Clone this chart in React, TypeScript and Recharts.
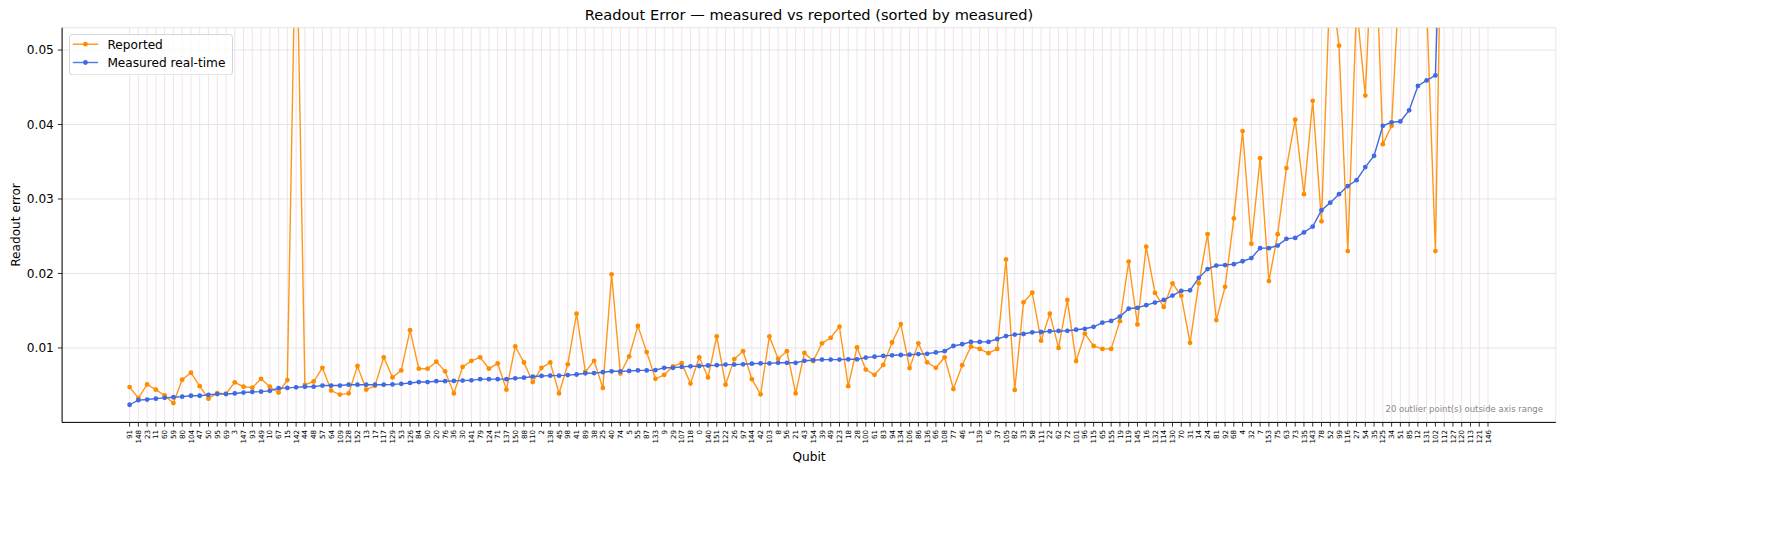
import { LineChart, Line, XAxis, YAxis, CartesianGrid, Legend } from "recharts";

// qubits sorted by measured readout error
const qubits = [
  91, 148, 23, 11, 60, 59, 80, 104, 47, 50,
  95, 69, 3, 147, 93, 149, 10, 67, 15, 142,
  44, 48, 57, 64, 109, 128, 152, 13, 17, 117,
  129, 53, 126, 84, 90, 20, 76, 36, 30, 141,
  79, 124, 71, 137, 150, 88, 110, 2, 138, 45,
  98, 41, 89, 38, 25, 40, 74, 5, 55, 87,
  133, 9, 29, 107, 118, 0, 140, 151, 122, 26,
  97, 144, 42, 103, 8, 56, 21, 43, 154, 39,
  49, 123, 18, 28, 100, 61, 83, 94, 134, 106,
  86, 136, 66, 108, 77, 46, 1, 139, 6, 37,
  105, 82, 33, 58, 111, 22, 62, 72, 101, 96,
  115, 65, 155, 19, 119, 145, 16, 132, 114, 130,
  70, 31, 14, 24, 81, 92, 68, 4, 32, 7,
  153, 75, 63, 73, 135, 143, 78, 52, 99, 116,
  27, 54, 35, 125, 34, 51, 85, 12, 131, 102,
  112, 127, 120, 113, 121, 146,
];

const measured = [
  0.00237, 0.00299, 0.00307, 0.00319, 0.0033, 0.00338, 0.00346, 0.00358, 0.00358, 0.0037,
  0.00381, 0.00381, 0.00389, 0.00401, 0.00409, 0.00413, 0.00424, 0.00459, 0.00463, 0.00471,
  0.00479, 0.0048, 0.00495, 0.00495, 0.00495, 0.00506, 0.00506, 0.00506, 0.00506, 0.00506,
  0.0051, 0.00518, 0.0053, 0.00542, 0.00542, 0.00553, 0.00553, 0.00557, 0.00561, 0.00565,
  0.00581, 0.00581, 0.00581, 0.00581, 0.00592, 0.006, 0.00616, 0.00624, 0.00628, 0.00628,
  0.00635, 0.00643, 0.00659, 0.00662, 0.00674, 0.00686, 0.00686, 0.0069, 0.00698, 0.00698,
  0.00702, 0.00733, 0.00733, 0.00745, 0.00753, 0.00757, 0.00764, 0.00768, 0.00776, 0.00776,
  0.0078, 0.00788, 0.00792, 0.00792, 0.008, 0.008, 0.008, 0.00827, 0.00835, 0.00843,
  0.00843, 0.00843, 0.00847, 0.00847, 0.0087, 0.00882, 0.00893, 0.00901, 0.00905, 0.00909,
  0.00917, 0.00921, 0.0094, 0.00956, 0.01026, 0.0105, 0.01081, 0.01081, 0.01081, 0.0112,
  0.01159, 0.01179, 0.01187, 0.0121, 0.01214, 0.01224, 0.01228, 0.0123, 0.01245, 0.01257,
  0.01284, 0.01339, 0.01363, 0.01421, 0.01527, 0.01539, 0.01574, 0.01609, 0.01644, 0.01703,
  0.01766, 0.01773, 0.01941, 0.02059, 0.02106, 0.02113, 0.02125, 0.02164, 0.02207, 0.0234,
  0.0234, 0.02375, 0.02465, 0.02477, 0.02551, 0.0263, 0.02849, 0.02951, 0.03064, 0.03174,
  0.03252, 0.03428, 0.0358, 0.03983, 0.0403, 0.04041, 0.0419, 0.04518, 0.04592, 0.04659,
  0.085, 0.092, 0.105, 0.12, 0.14, 0.17,
];

const reported = [
  0.00475, 0.00326, 0.0051, 0.0044, 0.00362, 0.0026, 0.00573, 0.00667, 0.00487, 0.00319,
  0.00393, 0.00385, 0.00538, 0.00479, 0.00467, 0.00585, 0.00479, 0.00401, 0.00569, 0.07,
  0.00502, 0.00549, 0.00733, 0.00428, 0.00373, 0.00389, 0.00757, 0.0044, 0.00491, 0.00874,
  0.00604, 0.00698, 0.01238, 0.00721, 0.00721, 0.00815, 0.00686, 0.00389, 0.00745, 0.00827,
  0.00874, 0.00721, 0.00792, 0.0044, 0.01019, 0.00804, 0.00542, 0.00733, 0.00804, 0.00389,
  0.0078, 0.0146, 0.00678, 0.00827, 0.00463, 0.01988, 0.00655, 0.00886, 0.01296, 0.00944,
  0.00585, 0.00639, 0.00753, 0.00796, 0.00522, 0.00874, 0.00604, 0.01155, 0.00506, 0.0085,
  0.00956, 0.00581, 0.00377, 0.01155, 0.00854, 0.00956, 0.00389, 0.00933, 0.00823, 0.01062,
  0.01136, 0.01285, 0.00487, 0.01007, 0.0071, 0.00639, 0.00772, 0.01073, 0.0132, 0.00729,
  0.01062, 0.00807, 0.00733, 0.00874, 0.00448, 0.00768, 0.01019, 0.00987, 0.00929, 0.00987,
  0.02188, 0.00436, 0.01613, 0.01742, 0.01097, 0.0146, 0.01, 0.01644, 0.00823, 0.01191,
  0.01026, 0.00987, 0.00987, 0.01359, 0.0216, 0.01316, 0.0236, 0.01738, 0.0155, 0.01867,
  0.01699, 0.01069, 0.01867, 0.02528, 0.01374, 0.0182, 0.02739, 0.03912, 0.02399, 0.03548,
  0.01898, 0.02528, 0.03415, 0.04064, 0.03064, 0.04318, 0.027, 0.06, 0.05058, 0.02301,
  0.056, 0.04388, 0.07, 0.03736, 0.03983, 0.062, 0.075, 0.068, 0.056, 0.02301,
  0.092, 0.08, 0.11, 0.095, 0.13, 0.15,
];

const yTicks = [0.01, 0.02, 0.03, 0.04, 0.05];

const chartData = qubits.map((q, i) => ({
  qubit: String(q),
  measured: measured[i],
  reported: reported[i],
}));

const FONT = "DejaVu Sans, sans-serif";
const ORANGE = "#ff8c00";
const BLUE = "#4169e1";

function QubitTick(props: any) {
  const { x, y, payload } = props;
  return (
    <text
      x={x}
      y={y}
      transform={`rotate(-90 ${x} ${y})`}
      textAnchor="end"
      dy="0.36em"
      fontSize={7.2}
      fontFamily={FONT}
      fill="#000"
    >
      {payload.value}
    </text>
  );
}

function LegendBox() {
  const rows = [
    { name: "Reported", color: ORANGE, y: 10.2 },
    { name: "Measured real-time", color: BLUE, y: 28.5 },
  ];
  return (
    <svg width={164} height={41.4} style={{ display: "block" }}>
      <rect
        x={0.5}
        y={0.5}
        width={163}
        height={40.4}
        rx={3}
        fill="rgba(255,255,255,0.8)"
        stroke="#d6d6d6"
      />
      {rows.map((r) => (
        <g key={r.name}>
          <line x1={3.8} x2={29.1} y1={r.y} y2={r.y} stroke={r.color} strokeWidth={1.4} strokeOpacity={0.9} />
          <circle cx={16.45} cy={r.y} r={2.4} fill={r.color} />
          <text x={38.4} y={r.y + 4.4} fontSize={12.15} fontFamily={FONT} fill="#000">
            {r.name}
          </text>
        </g>
      ))}
    </svg>
  );
}

export default function App() {
  return (
    <div style={{ width: 1790, height: 540, background: "#fff", fontFamily: FONT }}>
      <style>{"body{margin:0}"}</style>
      <LineChart
        width={1790}
        height={540}
        data={chartData}
        margin={{ top: 27.7, right: 234.2, bottom: 87.6, left: 12.1 }}
      >
        <CartesianGrid horizontal={false} vertical stroke="#efdfe9" strokeWidth={0.9} />
        <CartesianGrid horizontal vertical={false} stroke="#e2e2e2" strokeWidth={0.9} />
        <XAxis
          dataKey="qubit"
          type="category"
          interval={0}
          height={30}
          padding={{ left: 67.5, right: 67.8 }}
          tick={<QubitTick />}
          tickSize={4.25}
          tickMargin={3.2}
          tickLine={{ stroke: "#000", strokeWidth: 0.8 }}
          axisLine={{ stroke: "#000", strokeWidth: 1 }}
        />
        <XAxis
          xAxisId="top"
          dataKey="qubit"
          orientation="top"
          height={0}
          padding={{ left: 67.5, right: 67.8 }}
          tick={false}
          tickLine={false}
          axisLine={{ stroke: "#000", strokeWidth: 1 }}
        />
        <YAxis
          type="number"
          domain={[0, 0.053]}
          allowDataOverflow
          ticks={yTicks}
          width={50}
          tickFormatter={(v: number) => v.toFixed(2)}
          tick={{ fontSize: 12.15, fontFamily: FONT, fill: "#000" }}
          tickSize={4.25}
          tickMargin={4}
          tickLine={{ stroke: "#000", strokeWidth: 0.8 }}
          axisLine={{ stroke: "#000", strokeWidth: 1 }}
        />
        <YAxis
          yAxisId="right"
          orientation="right"
          domain={[0, 0.053]}
          width={0}
          tick={false}
          tickLine={false}
          axisLine={{ stroke: "#000", strokeWidth: 1 }}
        />
        <Line
          type="linear"
          dataKey="reported"
          name="Reported"
          stroke={ORANGE}
          strokeOpacity={0.9}
          strokeWidth={1.4}
          dot={{ r: 2.4, fill: ORANGE, stroke: ORANGE, strokeWidth: 0 }}
          activeDot={false}
          isAnimationActive={false}
        />
        <Line
          type="linear"
          dataKey="measured"
          name="Measured real-time"
          stroke={BLUE}
          strokeWidth={1.4}
          dot={{ r: 2.4, fill: BLUE, stroke: BLUE, strokeWidth: 0 }}
          activeDot={false}
          isAnimationActive={false}
        />
        <Legend
          layout="vertical"
          verticalAlign="middle"
          align="center"
          content={<LegendBox />}
          wrapperStyle={{ top: 33.5, left: 68.5, width: 164, height: 41.4 }}
        />
        <text x={809} y={20.3} textAnchor="middle" fontSize={14.6} fontFamily={FONT} fill="#000">
          Readout Error — measured vs reported (sorted by measured)
        </text>
        <text x={809} y={460.5} textAnchor="middle" fontSize={12.15} fontFamily={FONT} fill="#000">
          Qubit
        </text>
        <text
          x={16}
          y={225}
          transform="rotate(-90 16 225)"
          textAnchor="middle"
          dy="0.36em"
          fontSize={12.15}
          fontFamily={FONT}
          fill="#000"
        >
          Readout error
        </text>
        <text x={1543} y={411.5} textAnchor="end" fontSize={8.5} fontFamily={FONT} fill="#888">
          20 outlier point(s) outside axis range
        </text>
      </LineChart>
    </div>
  );
}
